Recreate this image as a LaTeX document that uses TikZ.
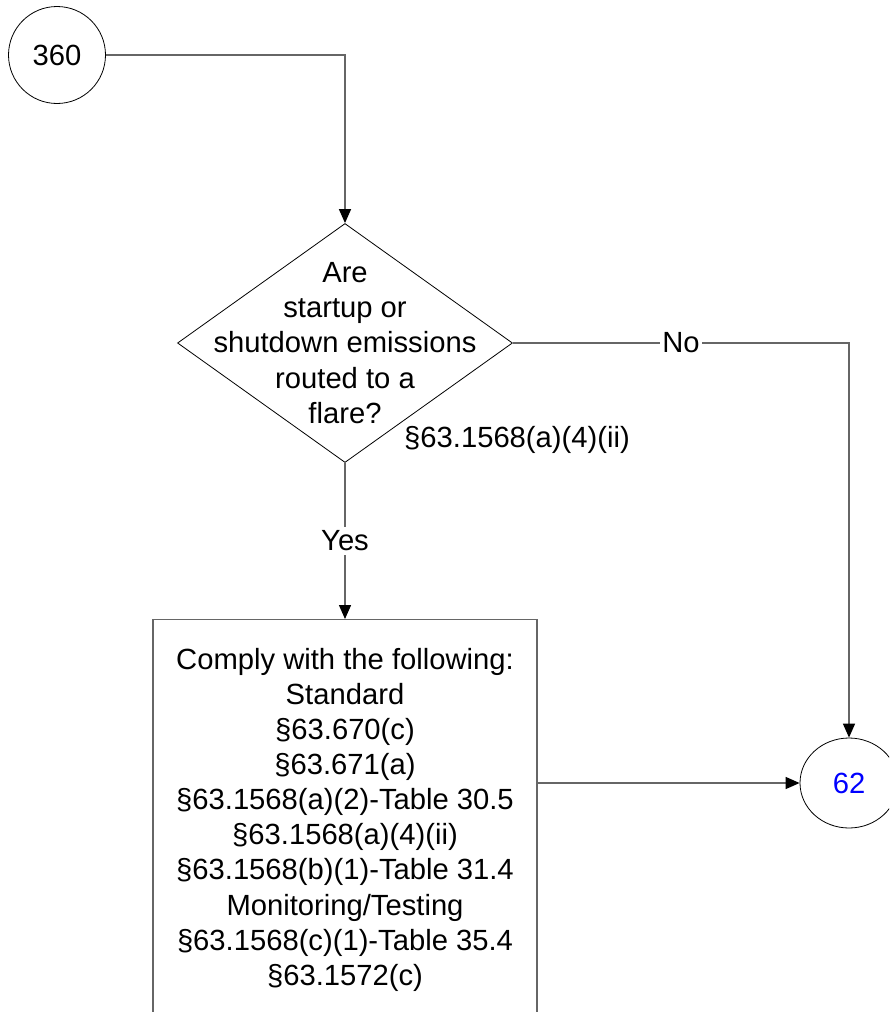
\documentclass[tikz,border=0pt]{standalone}
\usepackage{fontspec}
\setmainfont{Liberation Sans}
\usetikzlibrary{arrows.meta, positioning, shapes.geometric}

\begin{document}
\begin{tikzpicture}[
    x=0.5pt, y=-0.5pt,
    >={Triangle[length=7pt, width=6pt, color=black]},
    font=\fontsize{14.6pt}{17.55pt}\selectfont,
    conn/.style={draw=black!60, line width=0.7pt},
    connector/.style={circle, draw, thin, minimum size=48.5pt, inner sep=0pt},
    offpage/.style={ellipse, draw, thin, minimum width=49pt,
                    minimum height=45pt, inner sep=0pt},
    decision/.style={diamond, draw, thin, minimum width=167.5pt,
                     minimum height=119.5pt, inner sep=0pt},
    task/.style={draw=black!60, line width=0.7pt, minimum width=192pt,
                 minimum height=200pt, align=center, inner sep=0pt}
  ]
  \clip (0,0) rectangle (889,1012);
  \fill[white] (0,0) rectangle (889,1012);

  \node[connector] (c360) at (57,55) {360};
  \node[decision] (q) at (345,343) {};
  \node[align=center] (qtext) at (q.center)
    {Are\\startup or\\shutdown emissions\\routed to a\\flare?};
  \node (qref) at (517,440) {§63.1568(a)(4)(ii)};
  \node[task, anchor=north] (box) at (345,619)
    {Comply with the following:\\Standard\\§63.670(c)\\§63.671(a)\\
     §63.1568(a)(2)-Table 30.5\\§63.1568(a)(4)(ii)\\
     §63.1568(b)(1)-Table 31.4\\Monitoring/Testing\\
     §63.1568(c)(1)-Table 35.4\\§63.1572(c)};
  \node[offpage, text=blue] (c62) at (849,783) {62};

  \draw[conn, ->] (c360) -| (q);
  \draw[conn, ->] (q) -| node[pos=0.25, fill=white, inner sep=1pt] {No} (c62);
  \draw[conn, ->] (q.south) -- node[fill=white, inner sep=2pt] {Yes} (box.north);
  \draw[conn, ->] (box.east |- c62) -- (c62);
\end{tikzpicture}
\end{document}
